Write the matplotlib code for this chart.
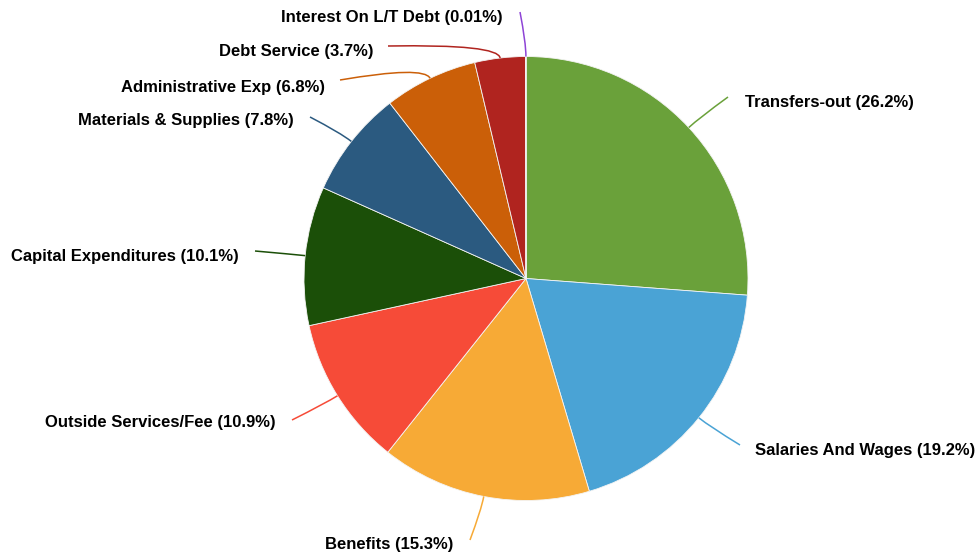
import numpy as np
import matplotlib.pyplot as plt
from matplotlib.path import Path
from matplotlib.patches import PathPatch

plt.rcParams['font.family'] = ['Liberation Sans', 'DejaVu Sans']

categories = ['Transfers-out', 'Salaries And Wages', 'Benefits', 'Outside Services/Fee',
              'Capital Expenditures', 'Materials & Supplies', 'Administrative Exp',
              'Debt Service', 'Interest On L/T Debt']
shares = [26.2, 19.2, 15.3, 10.9, 10.1, 7.8, 6.8, 3.7, 0.01]
colors = ['#6aa13a', '#4aa3d5', '#f7aa36', '#f64b38', '#1b4f08', '#2b5a80',
          '#cb5f08', '#b0241f', '#8e44d6']

# label layout in pixel space (x, y from top), end of leader line and text alignment
label_pos = [(745, 102, 'left'), (755, 451, 'left'), (389, 545, 'center'),
             (276, 423, 'right'), (239, 256, 'right'), (294, 120, 'right'),
             (325, 87, 'right'), (374, 51, 'right'), (503, 17, 'right')]
line_end = [(728, 97), (740, 445), (470, 540), (292, 420), (255, 251),
            (310, 117), (340, 80), (388, 46), (520, 12)]

W, H = 979, 554
cx, cy, R = 526, 278.5, 222

fig = plt.figure(figsize=(W / 100, H / 100), dpi=100)
ax = fig.add_axes([0, 0, 1, 1])

ax.pie(shares, colors=colors, startangle=90, counterclock=False,
       center=(cx, H - cy), radius=R, frame=True,
       wedgeprops=dict(edgecolor='#f4f4f4', linewidth=0.6))
ax.set_xlim(0, W)
ax.set_ylim(0, H)
ax.set_aspect('equal')
ax.axis('off')

total = sum(shares)
start = 0.0
for name, v, col, (tx, ty, ha), (ex, ey) in zip(categories, shares, colors, label_pos, line_end):
    mid = (start + v / 2) / total * 2 * np.pi
    start += v
    p0 = (cx + R * np.sin(mid), H - (cy - R * np.cos(mid)))
    rc = R + 14
    p1 = (cx + rc * np.sin(mid), H - (cy - rc * np.cos(mid)))
    p2 = (ex, H - ey)
    path = Path([p0, p1, p2], [Path.MOVETO, Path.CURVE3, Path.CURVE3])
    ax.add_patch(PathPatch(path, fill=False, edgecolor=col, linewidth=1.1))
    ax.text(tx, H - ty, f'{name} ({v:g}%)', ha=ha, va='center',
            fontsize=12, fontweight='bold', color='black')

fig.savefig('out.png', dpi=100)
